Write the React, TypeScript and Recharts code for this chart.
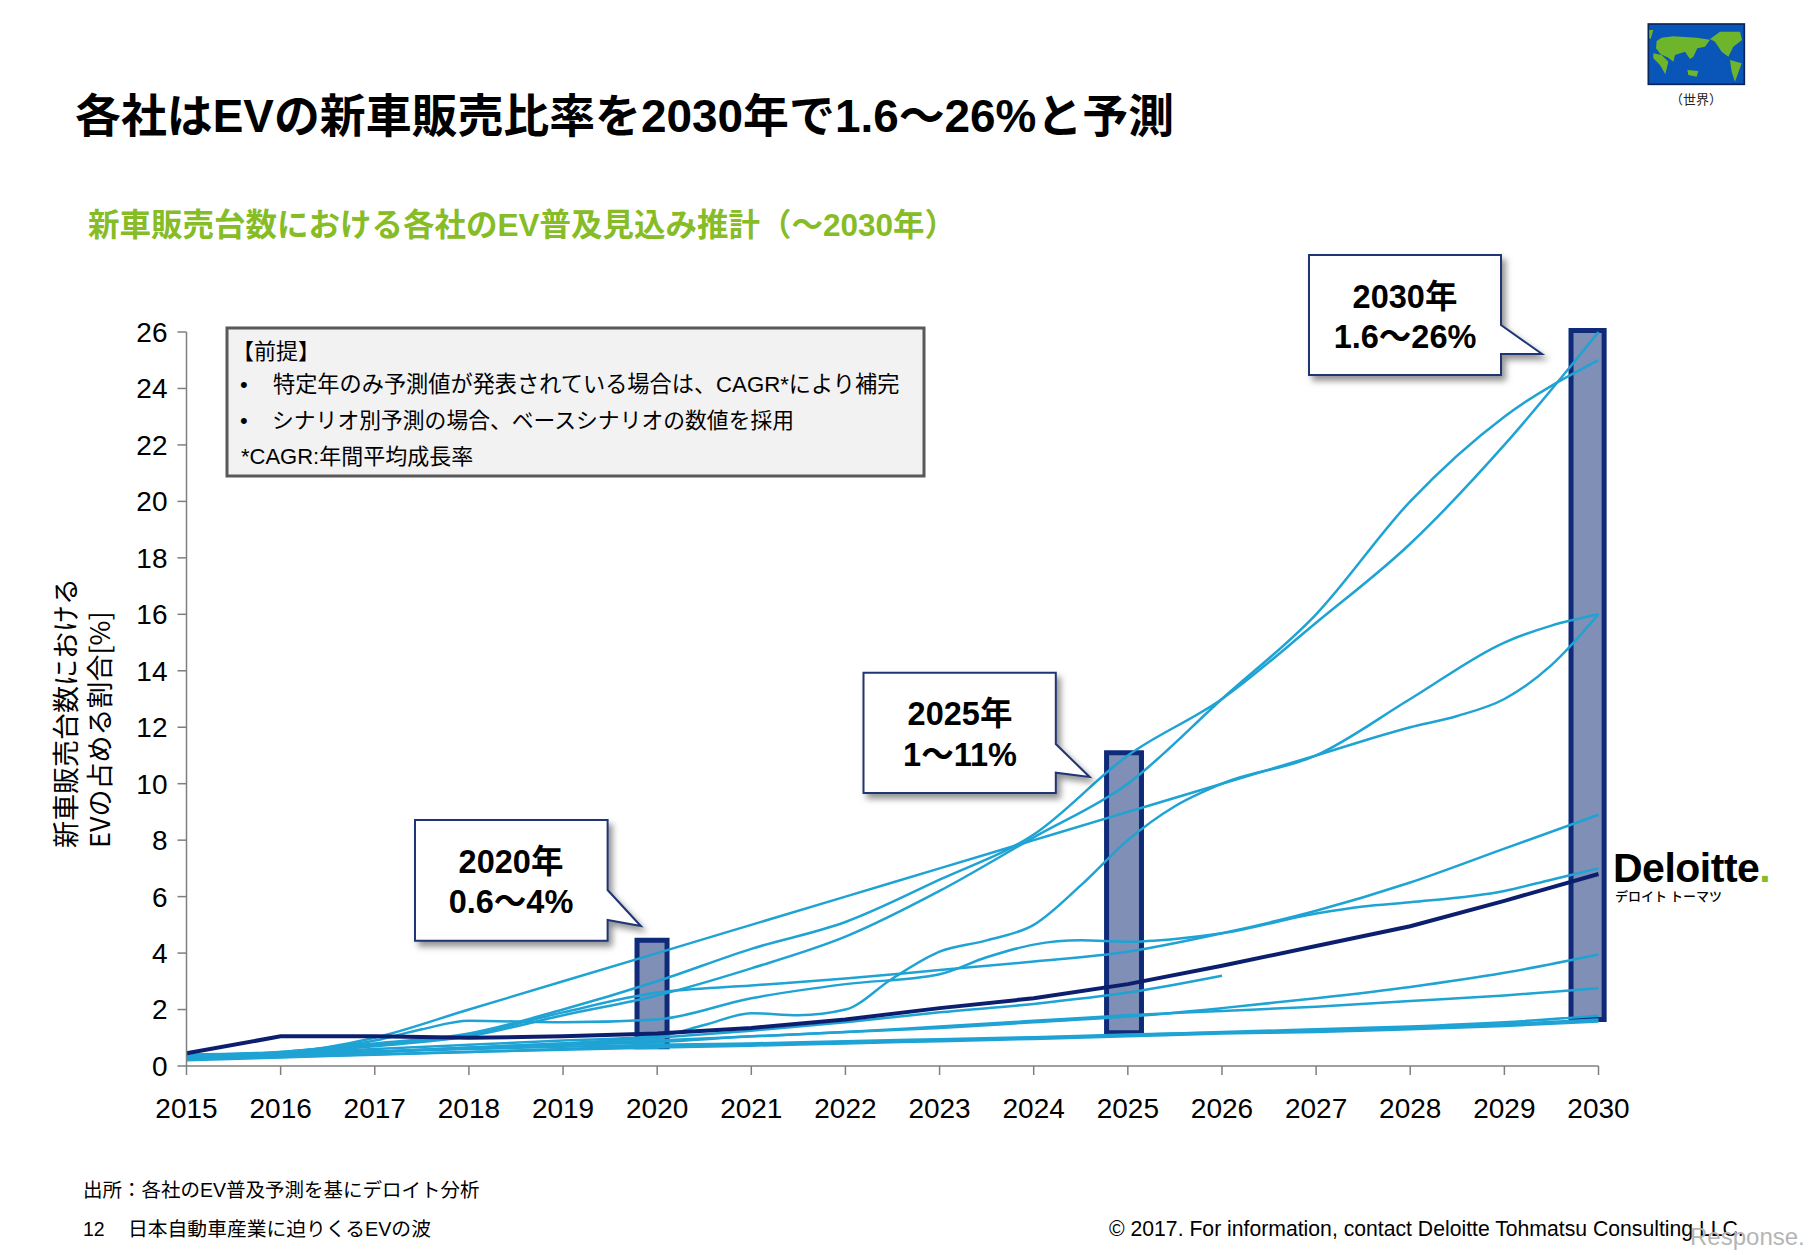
import React from "react";
import { ComposedChart, ReferenceArea, Line, XAxis, YAxis } from "recharts";

const SANS = "'Liberation Sans','Noto Sans CJK JP',sans-serif";
const CJK = "'Noto Sans CJK JP','Liberation Sans',sans-serif";

const yearTicks = [2015, 2016, 2017, 2018, 2019, 2020, 2021, 2022, 2023, 2024, 2025, 2026, 2027, 2028, 2029, 2030];
const valueTicks = [0, 2, 4, 6, 8, 10, 12, 14, 16, 18, 20, 22, 24, 26];

// yearly readings, one list per company
const lineA = [0.3, 0.45, 0.7, 1.05, 1.8, 2.5, 3.46, 4.58, 6.2, 8.1, 10, 13, 16, 20, 23, 25];
const lineB = [0.35, 0.5, 0.8, 1.15, 2.0, 3.0, 4.15, 5.1, 6.6, 8.2, 11, 13, 15.7, 18.5, 22, 26];
const lineF = [0.3, 0.45, 0.75, 1.1, 1.9, 2.6, 2.85, 3.1, 3.4, 3.7, 4.05, 4.7, 5.5, 6.5, 7.7, 8.9];
const lineI = [0.25, 0.35, 0.5, 0.65, 0.8, 0.9, 1.05, 1.2, 1.35, 1.55, 1.75, 2.05, 2.4, 2.8, 3.3, 3.95];
const lineJ = [0.3, 0.4, 0.5, 0.65, 0.75, 0.85, 1.05, 1.2, 1.4, 1.6, 1.8, 1.95, 2.1, 2.3, 2.5, 2.75];
const lineK = [0.2, 0.3, 0.4, 0.5, 0.6, 0.7, 0.78, 0.85, 0.92, 1.0, 1.1, 1.2, 1.3, 1.4, 1.55, 1.78];
const lineL = [0.25, 0.32, 0.42, 0.5, 0.58, 0.65, 0.72, 0.8, 0.88, 0.96, 1.05, 1.15, 1.2, 1.3, 1.42, 1.58];
const lineM = [0.4, 0.45, 0.52, 0.6, 0.68, 0.75, 0.8, 0.88, 0.95, 1.02, 1.12, 1.18, 1.25, 1.35, 1.48, 1.65];
const lineDark = [0.45, 1.05, 1.05, 1.0, 1.05, 1.15, 1.35, 1.65, 2.05, 2.4, 2.9, 3.55, 4.25, 4.95, 5.85, 6.8];

// these stop early or wobble, so they carry their own x positions
const lineHYears = [2015, 2016, 2017, 2018, 2019, 2020, 2021, 2022, 2023, 2024, 2025, 2026];
const lineH = [0.3, 0.4, 0.5, 0.65, 0.8, 1.0, 1.25, 1.55, 1.9, 2.2, 2.6, 3.2];

const lineCYears = [2015, 2016, 2017, 2018, 2019, 2020, 2021, 2022, 2023, 2024, 2025, 2026, 2027, 2028, 2028.5, 2029, 2029.5, 2030];
const lineC = [0.3, 0.45, 1.0, 2.0, 3.0, 4.0, 5.0, 6.0, 7.0, 8.0, 9.0, 10.0, 11.0, 12.0, 12.4, 13.0, 14.2, 16.0];

const lineDYears = [2015, 2016, 2017, 2018, 2019, 2020, 2020.5, 2021, 2021.5, 2022, 2022.5, 2023, 2023.5, 2024, 2024.5, 2025, 2025.5, 2026, 2027, 2028, 2029, 2029.5, 2030];
const lineD = [0.35, 0.45, 0.6, 0.75, 0.9, 1.05, 1.45, 1.87, 1.8, 2.0, 3.1, 4.05, 4.45, 5.0, 6.4, 8.0, 9.2, 10.0, 11.0, 13.0, 15.0, 15.6, 16.0];

const lineEYears = [2015, 2016, 2017, 2017.5, 2018, 2019, 2020, 2021, 2022, 2023, 2023.5, 2024, 2024.5, 2025, 2025.5, 2026, 2027, 2027.5, 2028, 2029, 2029.5, 2030];
const lineE = [0.4, 0.5, 0.9, 1.3, 1.6, 1.55, 1.65, 2.4, 2.9, 3.25, 3.85, 4.3, 4.45, 4.4, 4.5, 4.7, 5.4, 5.65, 5.8, 6.2, 6.6, 7.0];

// the three range boxes sit a little left of their year ticks
const rangeLeft = [2019.786, 2024.774, 2029.708];
const rangeRight = [2020.105, 2025.145, 2030.06];
const rangeLow = [0.68, 1.18, 1.65];
const rangeHigh = [4.45, 11.1, 26.05];

const toRows = (xs: number[], ys: number[]) => xs.map((x, i) => ({ x, y: ys[i] }));

const blueLines = [
  toRows(yearTicks, lineK),
  toRows(yearTicks, lineL),
  toRows(yearTicks, lineM),
  toRows(yearTicks, lineJ),
  toRows(yearTicks, lineI),
  toRows(lineHYears, lineH),
  toRows(yearTicks, lineF),
  toRows(lineEYears, lineE),
  toRows(lineDYears, lineD),
  toRows(lineCYears, lineC),
  toRows(yearTicks, lineA),
  toRows(yearTicks, lineB),
];

function Callout({ d, lines, cx, y1, y2 }: { d: string; lines: string[]; cx: number; y1: number; y2: number }) {
  return (
    <g>
      <path d={d} fill="#fff" stroke="#1f3576" strokeWidth={2} style={{ filter: "drop-shadow(4px 5px 3px rgba(60,60,60,0.55))" }} />
      <text x={cx} y={y1} textAnchor="middle" dominantBaseline="central" fontFamily={SANS} fontWeight={700} fontSize={32.5} fill="#000">{lines[0]}</text>
      <text x={cx} y={y2} textAnchor="middle" dominantBaseline="central" fontFamily={SANS} fontWeight={700} fontSize={32.5} fill="#000">{lines[1]}</text>
    </g>
  );
}

function Overlay() {
  return (
    <svg width={1815} height={1255} style={{ position: "absolute", left: 0, top: 0 }}>
      <text x={75} y={116} dominantBaseline="central" fontFamily={SANS} fontWeight={700} fontSize={45.9} fill="#000">各社はEVの新車販売比率を2030年で1.6～26%と予測</text>
      <text x={88} y={225} dominantBaseline="central" fontFamily={SANS} fontWeight={700} fontSize={31.5} fill="#86bc25">新車販売台数における各社のEV普及見込み推計（～2030年）</text>

      {/* globe, drawn in 3x crop units */}
      <g transform="translate(1640,15) scale(0.3333)">
        <rect x={25} y={27} width={288} height={181} fill="#0a55b8" stroke="#0b2558" strokeWidth={5} />
        <g fill="#6fb52c">
          <path d="M28 45 L40 45 L32 72 L28 70 Z" />
          <path d="M50 78 L65 68 L100 64 L170 68 L210 74 L195 95 L172 100 L160 125 L150 132 L135 110 L105 120 L100 140 L85 128 L62 118 L48 100 Z" />
          <path d="M40 115 L65 120 L85 140 L76 178 L60 150 L40 130 Z" />
          <path d="M142 165 L175 168 L170 185 L145 180 Z" />
          <path d="M210 72 L240 50 L300 50 L306 75 L280 95 L265 125 L245 110 L225 80 Z" />
          <path d="M270 135 L305 145 L285 200 L275 170 Z" />
        </g>
      </g>
      <text x={1696} y={98} textAnchor="middle" dominantBaseline="central" fontFamily={CJK} fontSize={13} fill="#222">（世界）</text>

      {/* assumptions box */}
      <rect x={227} y={328} width={697} height={148} fill="#f2f2f2" stroke="#595959" strokeWidth={3} />
      <text x={232} y={349} dominantBaseline="central" fontFamily={CJK} fontSize={22} fill="#000">【前提】</text>
      <text x={240} y={384} dominantBaseline="central" fontFamily={SANS} fontSize={22} fill="#000">•</text>
      <text x={273} y={384} dominantBaseline="central" fontFamily={SANS} fontSize={22.2} fill="#000">特定年のみ予測値が発表されている場合は、CAGR*により補完</text>
      <text x={240} y={420} dominantBaseline="central" fontFamily={SANS} fontSize={22} fill="#000">•</text>
      <text x={272} y={420} dominantBaseline="central" fontFamily={SANS} fontSize={21.8} fill="#000">シナリオ別予測の場合、ベースシナリオの数値を採用</text>
      <text x={241} y={456} dominantBaseline="central" fontFamily={SANS} fontSize={22} fill="#000">*CAGR:年間平均成長率</text>

      {/* y axis title */}
      <text transform="translate(64,848) rotate(-90)" dominantBaseline="central" fontFamily={CJK} fontSize={27} fill="#000">新車販売台数における</text>
      <text transform="translate(98,848) rotate(-90)" dominantBaseline="central" fontFamily={CJK} fontSize={27} fill="#000">EVの占める割合[%]</text>

      <Callout d="M415 820 H607.6 V890 L640.8 926 L607.6 920 V940.7 H415 Z" lines={["2020年", "0.6～4%"]} cx={511} y1={862} y2={902} />
      <Callout d="M863.5 672.7 H1055.8 V744 L1089.6 777 L1055.8 772.7 V793 H863.5 Z" lines={["2025年", "1～11%"]} cx={960} y1={714} y2={755} />
      <Callout d="M1309 255 H1501 V325 L1542 354 H1501 V375 H1309 Z" lines={["2030年", "1.6～26%"]} cx={1405} y1={297} y2={337} />

      {/* logo */}
      <text x={1613} y={882} fontFamily={SANS} fontWeight={700} fontSize={41} fill="#000" letterSpacing={-0.5}>Deloitte<tspan fill="#86bc25">.</tspan></text>
      <text x={1615} y={895} dominantBaseline="central" fontFamily={CJK} fontWeight={500} fontSize={13} fill="#000">デロイト トーマツ</text>

      {/* footer */}
      <text x={83} y={1190} dominantBaseline="central" fontFamily={SANS} fontSize={19.5} fill="#000">出所：各社のEV普及予測を基にデロイト分析</text>
      <text x={83} y={1229} dominantBaseline="central" fontFamily={SANS} fontSize={19.5} fill="#000">12</text>
      <text x={128} y={1229} dominantBaseline="central" fontFamily={SANS} fontSize={19.8} fill="#000">日本自動車産業に迫りくるEVの波</text>
      <text x={1109} y={1228} dominantBaseline="central" fontFamily={SANS} fontSize={21.2} fill="#000">© 2017. For information, contact Deloitte Tohmatsu Consulting LLC.</text>
      <text x={1690} y={1236} dominantBaseline="central" fontFamily={SANS} fontSize={24} fill="#b5b5b5">Response.</text>
    </svg>
  );
}

export default function App() {
  return (
    <div style={{ position: "absolute", left: 0, top: 0, width: 1815, height: 1255, background: "#fff" }}>
      <ComposedChart
        width={1815}
        height={1255}
        margin={{ top: 332, right: 216.5, bottom: 129, left: 126.5 }}
      >
        <XAxis
          dataKey="x"
          type="number"
          domain={[2015, 2030]}
          ticks={yearTicks}
          interval={0}
          height={60}
          tickSize={9}
          tickMargin={23}
          stroke="#7f7f7f"
          strokeWidth={1.5}
          tick={{ fill: "#000", fontSize: 28, fontFamily: SANS }}
        />
        <YAxis
          type="number"
          domain={[0, 26]}
          ticks={valueTicks}
          interval={0}
          width={60}
          tickSize={9}
          tickMargin={10}
          stroke="#7f7f7f"
          strokeWidth={1.5}
          tick={{ fill: "#000", fontSize: 28, fontFamily: SANS }}
        />
        {rangeLeft.map((x1, i) => (
          <ReferenceArea
            key={x1}
            x1={x1}
            x2={rangeRight[i]}
            y1={rangeLow[i]}
            y2={rangeHigh[i]}
            ifOverflow="visible"
            fill="#7f8fb5"
            fillOpacity={1}
            stroke="#0f2a78"
            strokeWidth={5}
          />
        ))}
        {blueLines.map((rows, i) => (
          <Line
            key={i}
            data={rows}
            dataKey="y"
            type="monotone"
            stroke="#1ea3d4"
            strokeWidth={2.5}
            dot={false}
            isAnimationActive={false}
          />
        ))}
        <Line
          data={toRows(yearTicks, lineDark)}
          dataKey="y"
          type="linear"
          stroke="#0c1f6e"
          strokeWidth={4}
          dot={false}
          isAnimationActive={false}
        />
      </ComposedChart>
      <Overlay />
    </div>
  );
}
